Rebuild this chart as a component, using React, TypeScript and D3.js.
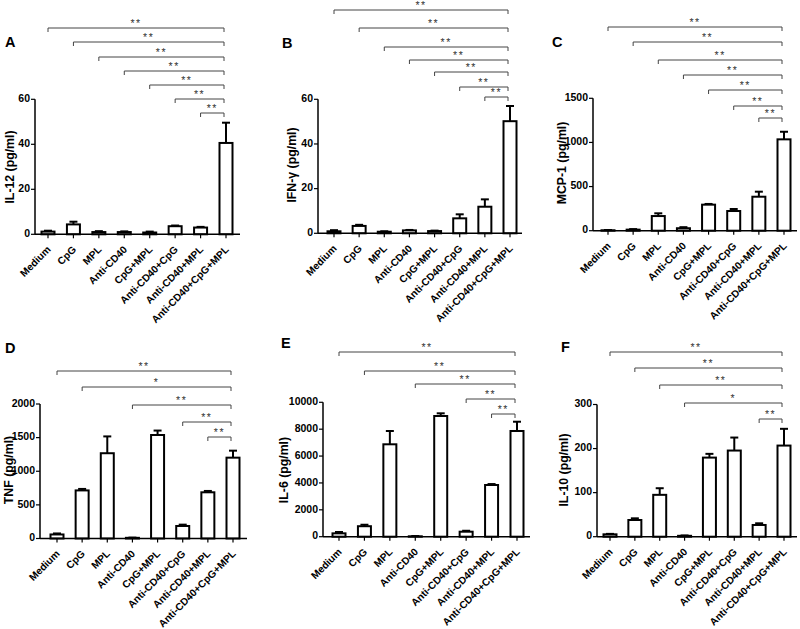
import React from 'react';
import * as d3 from 'd3';

const categories = ['Medium', 'CpG', 'MPL', 'Anti-CD40', 'CpG+MPL', 'Anti-CD40+CpG', 'Anti-CD40+MPL', 'Anti-CD40+CpG+MPL'];

const il12Mean = [1.2, 4.4, 1.0, 1.0, 0.8, 3.6, 3.0, 40.6];
const il12Sem = [0.4, 1.2, 0.4, 0.3, 0.4, 0.3, 0.3, 9.0];
const ifnMean = [0.9, 3.3, 0.7, 1.3, 1.0, 6.7, 11.9, 50.2];
const ifnSem = [0.5, 0.5, 0.2, 0.2, 0.2, 1.8, 3.3, 6.8];
const mcpMean = [5, 12, 166, 28, 295, 223, 385, 1035];
const mcpSem = [3, 6, 31, 12, 8, 23, 57, 86];
const tnfMean = [60, 715, 1268, 10, 1539, 186, 687, 1202];
const tnfSem = [15, 22, 250, 3, 66, 20, 20, 104];
const il6Mean = [250, 780, 6875, 30, 8980, 372, 3847, 7865];
const il6Sem = [100, 110, 990, 20, 200, 70, 70, 690];
const il10Mean = [5.4, 37.9, 95, 2, 179.5, 195.5, 26.6, 206.8];
const il10Sem = [1, 3.8, 15, 0.8, 8.5, 29.5, 3.8, 38];

const il12Ticks = [0, 20, 40, 60];
const ifnTicks = [0, 20, 40, 60];
const mcpTicks = [0, 500, 1000, 1500];
const tnfTicks = [0, 500, 1000, 1500, 2000];
const il6Ticks = [0, 2000, 4000, 6000, 8000, 10000];
const il10Ticks = [0, 100, 200, 300];

// comparisons: index of the group compared with the last group, and the significance label
const il12From = [0, 1, 2, 3, 4, 5, 6];
const il12Sig = ['**', '**', '**', '**', '**', '**', '**'];
const ifnFrom = [0, 1, 2, 3, 4, 5, 6];
const ifnSig = ['**', '**', '**', '**', '**', '**', '**'];
const mcpFrom = [0, 1, 2, 3, 4, 5, 6];
const mcpSig = ['**', '**', '**', '**', '**', '**', '**'];
const tnfFrom = [0, 1, 3, 5, 6];
const tnfSig = ['**', '*', '**', '**', '**'];
const il6From = [0, 1, 3, 5, 6];
const il6Sig = ['**', '**', '**', '**', '**'];
const il10From = [0, 1, 2, 3, 6];
const il10Sig = ['**', '**', '**', '*', '**'];

const panelLetters = ['A', 'B', 'C', 'D', 'E', 'F'];
const yTitles = ['IL-12  (pg/ml)', 'IFN-\u03b3  (pg/ml)', 'MCP-1  (pg/ml)', 'TNF  (pg/ml)', 'IL-6  (pg/ml)', 'IL-10  (pg/ml)'];

const datasets = [
  { mean: il12Mean, sem: il12Sem, ticks: il12Ticks, from: il12From, sig: il12Sig },
  { mean: ifnMean, sem: ifnSem, ticks: ifnTicks, from: ifnFrom, sig: ifnSig },
  { mean: mcpMean, sem: mcpSem, ticks: mcpTicks, from: mcpFrom, sig: mcpSig },
  { mean: tnfMean, sem: tnfSem, ticks: tnfTicks, from: tnfFrom, sig: tnfSig },
  { mean: il6Mean, sem: il6Sem, ticks: il6Ticks, from: il6From, sig: il6Sig },
  { mean: il10Mean, sem: il10Sem, ticks: il10Ticks, from: il10From, sig: il10Sig },
];

// layout (pixels)
const layouts = [
  { axisX: 35, axisEnd: 240, x0: 48, x1: 226, y0: 234.3, yTop: 99.3, letter: [5, 47], title: [11, 167], brackets: [28, 42, 57, 71, 85, 99, 113] },
  { axisX: 318, axisEnd: 522, x0: 334, x1: 510, y0: 233.3, yTop: 99.3, letter: [282, 48], title: [293, 165], brackets: [10, 28, 47, 60, 72, 87, 97] },
  { axisX: 593, axisEnd: 797, x0: 608, x1: 784, y0: 230.7, yTop: 98.3, letter: [552, 47], title: [563, 163], brackets: [27, 42, 60, 75, 90, 106, 118] },
  { axisX: 40, axisEnd: 247, x0: 57, x1: 233, y0: 538.5, yTop: 404, letter: [5, 353], title: [10, 470], brackets: [371, 387, 405, 422, 437] },
  { axisX: 323, axisEnd: 530, x0: 339, x1: 517, y0: 536.7, yTop: 402.3, letter: [281, 348], title: [285, 470], brackets: [352, 371, 384, 399, 414] },
  { axisX: 597, axisEnd: 797, x0: 610, x1: 784, y0: 536.7, yTop: 404.5, letter: [561, 352], title: [565, 470], brackets: [352, 368, 385, 403, 419] },
];

const FONT = '"Liberation Sans", Arial, sans-serif';
const BAR_W = 13;
const CAP_W = 8;

function Panel({ d, L, letter, title }: any) {
  const x = d3.scalePoint<string>().domain(categories).range([L.x0, L.x1]);
  const yMax = d.ticks[d.ticks.length - 1];
  const y = d3.scaleLinear().domain([0, yMax]).range([L.y0, L.yTop]);
  const last = categories[categories.length - 1];
  const xr = x(last)! - 2;
  return (
    <g>
      <text x={L.letter[0]} y={L.letter[1]} fontFamily={FONT} fontWeight="bold" fontSize={14.5}>{letter}</text>
      <text transform={`translate(${L.title[0]},${L.title[1]}) rotate(-90)`} textAnchor="middle" dominantBaseline="middle"
        fontFamily={FONT} fontWeight="bold" fontSize={12.3}>{title}</text>
      {/* y axis */}
      <line x1={L.axisX} x2={L.axisX} y1={y(0)} y2={y(yMax)} stroke="#000" strokeWidth={1.5} />
      {d.ticks.map((t: number) => (
        <g key={t}>
          <line x1={L.axisX - 4} x2={L.axisX} y1={y(t)} y2={y(t)} stroke="#000" strokeWidth={1.2} />
          <text x={L.axisX - 5} y={y(t)} textAnchor="end" dominantBaseline="middle" fontFamily={FONT} fontWeight="bold" fontSize={10.5}>{t}</text>
        </g>
      ))}
      {/* bars */}
      {categories.map((c, i) => {
        const cx = x(c)!;
        const top = y(d.mean[i]);
        const et = y(d.mean[i] + d.sem[i]);
        return (
          <g key={c}>
            <line x1={cx} x2={cx} y1={top} y2={et} stroke="#000" strokeWidth={2} />
            <line x1={cx - CAP_W / 2} x2={cx + CAP_W / 2} y1={et} y2={et} stroke="#000" strokeWidth={2} />
            <rect x={cx - BAR_W / 2} y={top} width={BAR_W} height={Math.max(0, y(0) - top)} fill="#fff" stroke="#000" strokeWidth={2} />
          </g>
        );
      })}
      {/* x axis */}
      <line x1={L.axisX} x2={L.axisEnd} y1={y(0)} y2={y(0)} stroke="#000" strokeWidth={1.5} />
      {categories.map((c) => {
        const cx = x(c)!;
        return (
          <g key={c}>
            <line x1={cx} x2={cx} y1={y(0)} y2={y(0) + 4} stroke="#000" strokeWidth={1.2} />
            <text transform={`translate(${cx + 1.5},${y(0) + 14}) rotate(-45)`} textAnchor="end" dominantBaseline="middle"
              fontFamily={FONT} fontWeight="bold" fontSize={10.2}>{c}</text>
          </g>
        );
      })}
      {/* significance brackets */}
      {d.from.map((f: number, k: number) => {
        const xl = x(categories[f])!;
        const yy = L.brackets[k];
        return (
          <g key={k}>
            <path d={`M${xl},${yy + 4}V${yy}H${xr}V${yy + 4}`} fill="none" stroke="#444" strokeWidth={1} />
            <text x={(xl + xr) / 2} y={yy - 1.5} textAnchor="middle" fontFamily={FONT} fontSize={10.5} fill="#333" letterSpacing={1.5}>{d.sig[k]}</text>
          </g>
        );
      })}
    </g>
  );
}

export default function App() {
  return (
    <svg width={800} height={629} style={{ position: 'absolute', left: 0, top: 0, background: '#fff' }}>
      <rect width={800} height={629} fill="#fff" />
      {datasets.map((d, i) => (
        <Panel key={i} d={d} L={layouts[i]} letter={panelLetters[i]} title={yTitles[i]} />
      ))}
    </svg>
  );
}
